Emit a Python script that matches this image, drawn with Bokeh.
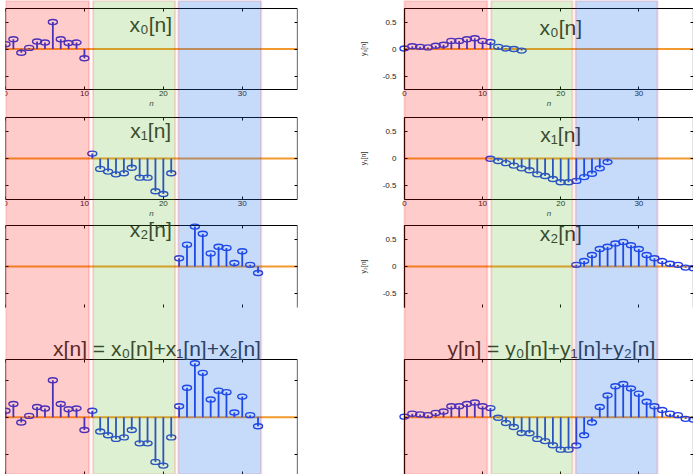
import numpy as np
from bokeh.plotting import figure
from bokeh.layouts import gridplot
from bokeh.models import BoxAnnotation, Label, LinearAxis, FixedTicker, Range1d
from bokeh.embed import file_html
from bokeh.resources import INLINE

# ---------------- data ----------------
n_x0 = list(range(0, 11))
x0_vals = [0.09, 0.18, -0.07, 0.02, 0.14, 0.12, 0.50, 0.18, 0.11, 0.12, -0.17]
n_x1 = list(range(11, 22))
x1_vals = [0.09, -0.19, -0.24, -0.29, -0.27, -0.17, -0.35, -0.35, -0.60, -0.65, -0.27]
n_x2 = list(range(22, 33))
x2_vals = [0.15, 0.40, 0.73, 0.60, 0.24, 0.36, 0.34, 0.065, 0.28, 0.03, -0.12]

n_y0 = list(range(0, 16))
y0_vals = [0.01, 0.05, 0.04, 0.03, 0.06, 0.08, 0.15, 0.15, 0.18, 0.20, 0.15, 0.13, 0.04, 0.01, 0.00, -0.03]
n_y1 = list(range(11, 27))
y1_vals = [-0.005, -0.045, -0.085, -0.13, -0.18, -0.215, -0.29, -0.32, -0.375, -0.435, -0.435,
           -0.41, -0.34, -0.28, -0.18, -0.065]
n_y2 = list(range(22, 38))
y2_vals = [0.03, 0.10, 0.21, 0.32, 0.36, 0.42, 0.45, 0.39, 0.32, 0.21, 0.15, 0.10, 0.05, 0.03, -0.02, -0.03]

x_ticks = [0, 10, 20, 30]
y_ticks = [-0.5, 0, 0.5]
y_tick_labels = {-0.5: "-0.5", 0: "0", 0.5: "0.5"}
N_MAX = 37

# sums
n_x = n_x0 + n_x1 + n_x2
x_vals = x0_vals + x1_vals + x2_vals
n_y = list(range(0, 38))
y_sum = np.zeros(len(n_y))
for nn, vv in ((n_y0, y0_vals), (n_y1, y1_vals), (n_y2, y2_vals)):
    for a, b in zip(nn, vv):
        y_sum[a] += b
y_vals = [float(v) for v in y_sum]

# shaded regions (extent in n) : left, right, colour, alpha
bands = [(0, 10.6, "#ff0000", 0.2), (11.1, 21.5, "#5ab41e", 0.2), (21.9, 32.4, "#1b6beb", 0.25)]

left_titles = ["x₀[n]", "x₁[n]", "x₂[n]", "x[n] = x₀[n]+x₁[n]+x₂[n]"]
right_titles = ["x₀[n]", "x₁[n]", "x₂[n]", "y[n] = y₀[n]+y₁[n]+y₂[n]"]
ylabels = ["y₀[n]", "y₁[n]", "y₂[n]"]

series = [
    [(n_x0, x0_vals), (n_x1, x1_vals), (n_x2, x2_vals), (n_x, x_vals)],
    [(n_y0, y0_vals), (n_y1, y1_vals), (n_y2, y2_vals), (n_y, y_vals)],
]

# ---------------- layout / style ----------------
BLUE = "#1f3ee6"
ORANGE = "#f39a2e"
FONT = "Liberation Sans"
H = 474
WIDTHS = [300, 393]
LEFT_BORDER = [5, 0]
RIGHT_BORDER = [3, 0]
N0_OFFSET = [0, 104]          # px between frame left and n = 0
BOX_PX = [(8, 89), (117, 199), (225, 307), (359, 474)]   # box top/bottom, px from top
BOX_Y = [(-0.75, 0.75), (-0.75, 0.75), (-0.75, 0.75), (-0.77, 0.78)]
TITLE_POS = [[(18.4, 0.46), (18.4, 0.52), (18.4, 0.67), (19.2, 0.93)],
             [(20.0, 0.40), (20.0, 0.44), (20.0, 0.60), (18.8, 0.93)]]


def row_range(k):
    top_px, bot_px = BOX_PX[k]
    lo, hi = BOX_Y[k]
    s = (hi - lo) / (bot_px - top_px)
    return Range1d(lo - (H - bot_px) * s, hi + top_px * s)


def col_range(c):
    frame_w = WIDTHS[c] - LEFT_BORDER[c] - RIGHT_BORDER[c]
    s = N_MAX / (frame_w - N0_OFFSET[c])
    return Range1d(-N0_OFFSET[c] * s, N_MAX)


def make_axis(name, loc, bounds, ticks, labels, line=True):
    ax = LinearAxis(y_range_name=name, fixed_location=loc, bounds=bounds)
    if labels:
        ax.ticker = FixedTicker(ticks=ticks)
        ax.major_tick_in = 3
        ax.major_tick_out = 0
        ax.major_tick_line_color = "black"
        ax.major_label_text_font_size = "8px"
        ax.major_label_text_font = FONT
        ax.major_label_text_color = "#222222"
        ax.major_label_standoff = 1
    else:
        ax.ticker = FixedTicker(ticks=[], minor_ticks=ticks)
        ax.major_tick_line_color = None
    ax.minor_tick_in = 3
    ax.minor_tick_out = 0
    ax.minor_tick_line_color = "black"
    ax.axis_line_color = "black" if line else None
    ax.axis_line_width = 1.2
    return ax


figs = []
for c in range(2):
    p = figure(width=WIDTHS[c], height=H, x_range=col_range(c), y_range=Range1d(0, 1),
               x_axis_type=None, y_axis_type=None,
               output_backend="svg", toolbar_location=None, min_border=0,
               min_border_left=LEFT_BORDER[c], min_border_right=RIGHT_BORDER[c],
               min_border_top=0, min_border_bottom=0,
               outline_line_color=None, background_fill_color="white",
               border_fill_color="white")
    p.grid.visible = False
    for k in range(4):
        p.extra_y_ranges[f"r{k}"] = row_range(k)
    for k in range(4):
        name = f"r{k}"
        lo, hi = BOX_Y[k]
        xb = make_axis(name, lo, (0, N_MAX), x_ticks, labels=(k < 2), line=(k != 2))
        if k < 2:
            xb.axis_label = "n"
            xb.axis_label_text_font_size = "8px"
            xb.axis_label_text_font_style = "italic"
            xb.axis_label_text_font = FONT
            xb.axis_label_text_color = "#333333"
            xb.axis_label_standoff = 0
        p.add_layout(xb, "below")
        p.add_layout(make_axis(name, hi, (0, N_MAX), x_ticks, labels=False), "above")
        yl = make_axis(name, 0, (lo, hi), y_ticks, labels=(c == 1 and k < 3))
        if c == 1 and k < 3:
            yl.major_label_overrides = y_tick_labels
            yl.major_label_standoff = 8
            yl.axis_label = ylabels[k]
            yl.axis_label_text_font_size = "7px"
            yl.axis_label_text_font_style = "normal"
            yl.axis_label_text_font = FONT
            yl.axis_label_text_color = "#333333"
            yl.axis_label_standoff = 13
        p.add_layout(yl, "left")
        p.add_layout(make_axis(name, N_MAX, (lo, hi), y_ticks, labels=False), "right")

        nn, vv = series[c][k]
        # baseline of the stem plot, across the axis extent
        p.segment(x0=[0], y0=[0], x1=[N_MAX], y1=[0], line_color=ORANGE, line_width=2,
                  y_range_name=name)
        p.segment(x0=nn, y0=[0] * len(nn), x1=nn, y1=vv, line_color=BLUE, line_width=1.8,
                  y_range_name=name)
        p.ellipse(x=nn, y=vv, width=9, height=5, width_units="screen", height_units="screen",
                  fill_color=None, line_color=BLUE, line_width=1.4, y_range_name=name)
        tx, ty = TITLE_POS[c][k]
        ttl = left_titles[k] if c == 0 else right_titles[k]
        p.add_layout(Label(x=tx, y=ty, y_range_name=name, text=ttl, text_font=FONT,
                           text_font_size="21px", text_color="#333333",
                           text_align="center", text_baseline="middle"))

    for (a, b, col, al) in bands:
        p.add_layout(BoxAnnotation(left=a, right=b, fill_color=col, fill_alpha=al,
                                   line_color="red", line_alpha=0.15, line_width=2))
    figs.append(p)

layout = gridplot([figs], toolbar_location=None)
open("out.html", "w").write(file_html(layout, INLINE))
